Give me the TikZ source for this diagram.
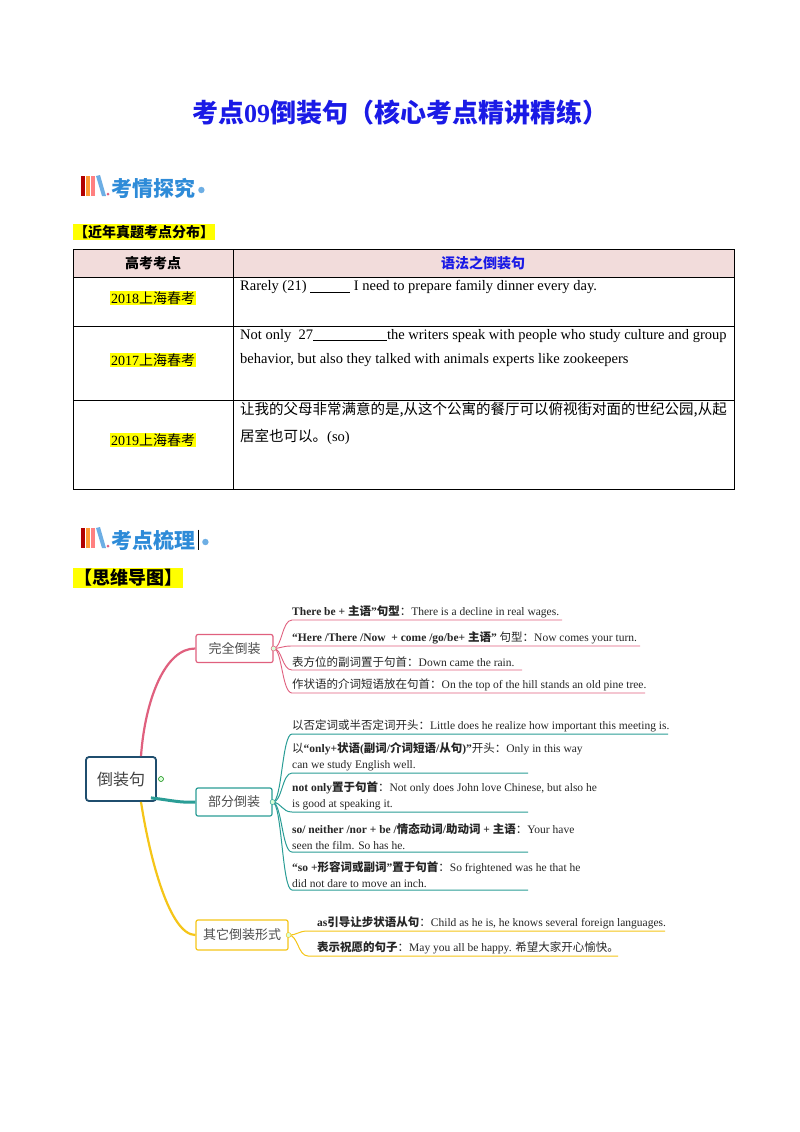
\documentclass[tikz,border=0pt]{standalone}
\usepackage{fontspec}
\setmainfont{Liberation Serif}
\newfontfamily\cjk{Noto Sans CJK SC}
\newcommand\zh[1]{{\cjk#1}}
\definecolor{tblue}{HTML}{1A1AE6}
\definecolor{pinkc}{HTML}{E0607E}
\definecolor{tealc}{HTML}{2A9D96}
\definecolor{yelc}{HTML}{F5C518}
\definecolor{rootc}{HTML}{1F4E6E}
\definecolor{hdr}{HTML}{F2DCDB}
\definecolor{hl}{HTML}{FFFF00}
\definecolor{icb}{HTML}{2E8BD8}
\tikzset{
  cell/.style={font=\fontsize{14.5}{17}\selectfont, anchor=north west, inner sep=0pt, align=left},
  yl/.style={fill=hl, inner sep=1pt, font=\fontsize{14}{16}\selectfont},
  br/.style={draw=#1, line width=1.2pt, rounded corners=2pt, minimum height=28pt, font=\cjk\fontsize{13}{15}\selectfont\color{black!70}, fill=white},
  leaf/.style={anchor=south west, inner sep=1pt, align=left, font=\fontsize{11.5}{16}\selectfont, text=black!85},
  knob/.style={circle, draw=#1, fill=green!15, inner sep=0pt, minimum size=5pt, line width=0.5pt},
}
\begin{document}
\begin{tikzpicture}[x=1pt,y=-1pt]
\useasboundingbox (0,0) rectangle (800,1132);
\fill[white] (0,0) rectangle (800,1132);
% title
\node[font=\cjk\bfseries\fontsize{26}{30}\selectfont, text=tblue] (title) at (400,113) {考点\textrm{\textbf{09}}倒装句（核心考点精讲精练）};
% icons
\foreach \yy/\nm/\tx in {188/h1/考情探究, 540/h2/考点梳理}{
  \fill[red!70!black] (81,\yy-12) rectangle (85,\yy+8);
  \fill[orange!80] (86,\yy-12) rectangle (90,\yy+8);
  \fill[red!50] (91,\yy-12) rectangle (95,\yy+8);
  \fill[icb!70] (96,\yy-12) -- (100,\yy-13) -- (106,\yy+8) -- (102,\yy+8) -- cycle;
  \fill[pinkc] (108,\yy+6) circle (1.5);
  \node[anchor=west, font=\cjk\bfseries\fontsize{21}{23}\selectfont, text=icb, inner sep=0pt] (\nm) at (111,\yy) {\tx};
}
\fill[icb!70] ([xshift=6pt,yshift=-2pt]h1.east) circle (3.2);
\draw[black, line width=1pt] ([xshift=3pt]h2.north east) -- ([xshift=3pt]h2.south east);
\fill[icb!70] ([xshift=10pt,yshift=-2pt]h2.east) circle (3.2);
\node[fill=hl, inner sep=1pt, anchor=west, font=\cjk\bfseries\fontsize{14}{16}\selectfont] (sub1) at (73,232) {【近年真题考点分布】};
\node[fill=hl, inner sep=1pt, anchor=west, font=\cjk\bfseries\fontsize{18}{20}\selectfont] (sub2) at (73,578) {【思维导图】};
% table
\fill[hdr] (73,249) rectangle (734,277);
\draw[line width=0.6pt] (73,249) rectangle (734,489);
\draw[line width=0.6pt] (73,277) -- (734,277) (73,326) -- (734,326) (73,400) -- (734,400) (233,249) -- (233,489);
\node[font=\cjk\bfseries\fontsize{14}{16}\selectfont] (th1) at (153,263) {高考考点};
\node[font=\cjk\bfseries\fontsize{14}{16}\selectfont, text=tblue] (th2) at (483,263) {语法之倒装句};
\node[yl] (y1) at (153,298) {2018\zh{上海春考}};
\node[yl] (y2) at (153,360) {2017\zh{上海春考}};
\node[yl] (y3) at (153,440) {2019\zh{上海春考}};
\node[cell] (c1) at (240,280) {Rarely (21) \underline{\hspace{40pt}} I need to prepare family dinner every day.};
\node[cell, font=\fontsize{14.5}{24}\selectfont] (c2) at (240,329) {Not only\ \ 27\underline{\hspace{74pt}}the writers speak with people who study culture and group\\behavior, but also they talked with animals experts like zookeepers};
\node[cell, font=\cjk\fontsize{14.5}{27}\selectfont] (c3) at (240,402) {让我的父母非常满意的是,从这个公寓的餐厅可以俯视街对面的世纪公园,从起\\居室也可以。\textrm{(so)}};
% mind map root
\node[draw=rootc, line width=1.8pt, rounded corners=3pt, minimum width=70pt, minimum height=44pt, font=\cjk\fontsize{16}{18}\selectfont\color{black!75}] (root) at (121,779) {倒装句};
\node[knob=green!50!black] (kr) at (161,779) {};
\node[br=pinkc, minimum width=77pt] (b1) at (234.5,648.5) {完全倒装};
\node[br=tealc, minimum width=76pt] (b2) at (234,802) {部分倒装};
\node[br=yelc, minimum width=92pt, minimum height=30pt] (b3) at (242,935) {其它倒装形式};
\draw[pinkc, line width=2.2pt] ([xshift=20pt]root.north) .. controls (145,700) and (165,648) .. (b1.west);
\draw[tealc, line width=3pt] ([xshift=-6pt,yshift=4pt]root.south east) .. controls (170,800) and (180,803) .. (b2.west);
\draw[yelc, line width=2.2pt] ([xshift=20pt]root.south) .. controls (150,860) and (170,935) .. (b3.west);
% branch 1 leaves
\foreach \yy/\ee in {620/562, 646/640, 670/522, 693/645}{
  \draw[pinkc, line width=0.9pt] (b1.east) .. controls (282,648) and (282,\yy) .. (292,\yy) -- (\ee,\yy);
}
\node[knob=pinkc] (k1) at (b1.east) {};
\node[leaf] (t1) at (291,619) {\textbf{There be + \zh{主语}”\zh{句型}}\zh{：}There is a decline in real wages.};
\node[leaf] (t2) at (291,645) {\textbf{“Here /There /Now\ \ + come /go/be+ \zh{主语}”} \zh{句型：}Now comes your turn.};
\node[leaf] (t3) at (291,669) {\zh{表方位的副词置于句首：}Down came the rain.};
\node[leaf] (t4) at (291,692) {\zh{作状语的介词短语放在句首：}On the top of the hill stands an old pine tree.};
% branch 2 leaves
\foreach \yy/\ee in {734/668, 773/528, 812/528, 852/528, 890/528}{
  \draw[tealc, line width=1pt] (b2.east) .. controls (282,803) and (282,\yy) .. (292,\yy) -- (\ee,\yy);
}
\node[knob=tealc] (k2) at (b2.east) {};
\node[leaf] (t5) at (291,733) {\zh{以否定词或半否定词开头：}Little does he realize how important this meeting is.};
\node[leaf] (t6) at (291,772) {\zh{以}\textbf{“only+\zh{状语}(\zh{副词}/\zh{介词短语}/\zh{从句})”}\zh{开头：}Only in this way\\can we study English well.};
\node[leaf] (t7) at (291,811) {\textbf{not only\zh{置于句首}}\zh{：}Not only does John love Chinese, but also he\\is good at speaking it.};
\node[leaf] (t8) at (291,851) {\textbf{so/ neither /nor + be /\zh{情态动词}/\zh{助动词} + \zh{主语}}\zh{：}Your have\\seen the film. So has he.};
\node[leaf] (t9) at (291,889) {\textbf{“so +\zh{形容词或副词}”\zh{置于句首}}\zh{：}So frightened was he that he\\did not dare to move an inch.};
% branch 3 leaves
\foreach \yy/\ee in {931/665, 956/618}{
  \draw[yelc, line width=1pt] (b3.east) .. controls (298,935) and (298,\yy) .. (308,\yy) -- (\ee,\yy);
}
\node[knob=yelc] (k3) at (b3.east) {};
\node[leaf] (t10) at (316,930) {\textbf{as\zh{引导让步状语从句}}\zh{：}Child as he is, he knows several foreign languages.};
\node[leaf] (t11) at (316,955) {\textbf{\zh{表示祝愿的句子}}\zh{：}May you all be happy. \zh{希望大家开心愉快。}};
\end{tikzpicture}
\end{document}
